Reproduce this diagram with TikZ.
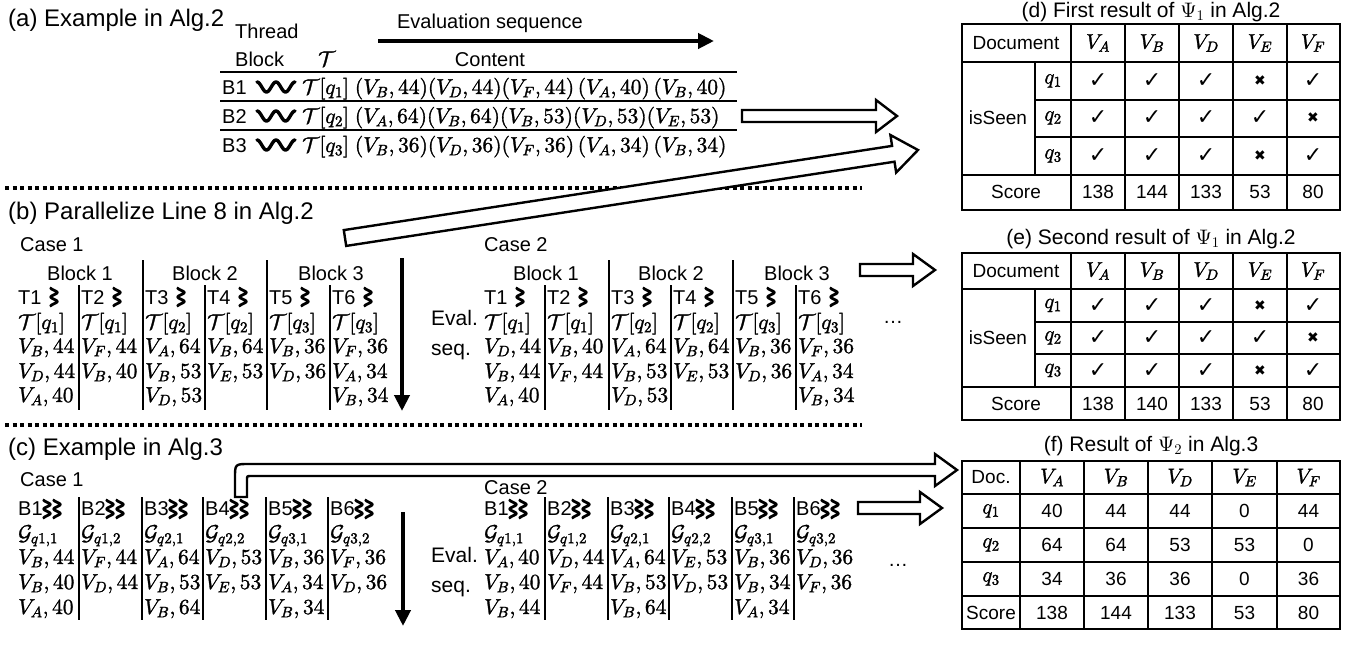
\documentclass[tikz,border=0pt]{standalone}
\usepackage[no-math]{fontspec}
\setmainfont{Liberation Sans}
\newfontfamily\symf{DejaVu Sans}
\DeclareFontShape{OT1}{cmr}{m}{n}{<-> cmr10}{}
\DeclareFontShape{OML}{cmm}{m}{it}{<-> cmmi10}{}
\DeclareFontShape{OMS}{cmsy}{m}{n}{<-> cmsy10}{}
\usetikzlibrary{arrows.meta,calc}
\newcommand\ckm{{\symf\fontsize{22}{24}\selectfont ✓}}
\newcommand\crm{{\symf\fontsize{14}{16}\selectfont ✖}}
\newcommand\hollowarr[5]{%
  \coordinate (hh) at ($(#2)!#5!(#1)$);
  \draw[hollow] ($(#1)!#3!90:(#2)$) -- ($(hh)!#3!-90:(#1)$) -- ($(hh)!#4!-90:(#1)$) -- (#2)
     -- ($(hh)!#4!90:(#1)$) -- ($(hh)!#3!90:(#1)$) -- ($(#1)!#3!-90:(#2)$) -- cycle;}
\begin{document}
\begin{tikzpicture}[x=1pt,y=-1pt,
 heavy/.style={execute at begin node={\special{pdf:literal direct 2 Tr 0.3 w}},
               execute at end node={\special{pdf:literal direct 0 Tr}}},
 head/.style={font=\fontsize{24}{28}\selectfont, inner sep=0, anchor=base west},
 txt/.style={font=\fontsize{20}{24}\selectfont, inner sep=0},
 evt/.style={font=\fontsize{21}{25}\selectfont, inner sep=0, anchor=base west},
 mth/.style={heavy, font=\fontsize{21.5}{26}\selectfont, inner sep=0, anchor=base west},
 rule/.style={line width=1.4pt},
 sep/.style={line width=1.2pt},
 dots/.style={line width=4pt, dash pattern=on 4pt off 3.5pt},
 thickarr/.style={line width=4pt, -{Triangle[length=16pt,width=15pt]}},
 hollow/.style={line width=2.4pt, line join=miter, fill=white},
 tab/.style={line width=1.6pt},
 ttl/.style={font=\fontsize{21}{25}\selectfont, inner sep=0, anchor=base},
 tt/.style={font=\fontsize{19}{23}\selectfont, inner sep=0},
 tm/.style={heavy, font=\fontsize{21}{25}\selectfont, inner sep=0},
 hw/.pic={\draw[line width=3.4pt, line cap=round, line join=round] plot[domain=-19:19, samples=60, smooth] ({\x},{-5*cos(\x*360/19)});},
 vw/.pic={\draw[line width=2.8pt, line cap=round, line join=round] plot[domain=-9:9, samples=40, smooth] ({-3.2*cos(\x*40)},{\x});}
]
\fill[white] (0,0) rectangle (1353,649);
\useasboundingbox (0,0) rectangle (1353,649);

% ---------------- (a)
\node[head] (ta) at (8,26) {(a) Example in Alg.2};
\node[txt,anchor=base west] (thr) at (235,38) {Thread};
\node[txt,anchor=base west] (blk) at (235,66) {Block};
\node[mth] (tcal) at (318,66) {$\mathcal{T}$};
\node[txt,anchor=base] (evs) at (490,28) {Evaluation sequence};
\node[txt,anchor=base] (cnt) at (490,66) {Content};
\coordinate (evA) at (378,41); \coordinate (evB) at (714,41);
\draw[thickarr] (evA) -- (evB);
\foreach \yy [count=\i] in {72,101,130} {
  \coordinate (ra\i) at (220,\yy); \coordinate (rb\i) at (737,\yy);
  \draw[rule] (ra\i) -- (rb\i);}
\foreach \i/\yy/\rw in {
 1/94/{\mathcal{T}[q_1]\;(V_B,44)(V_D,44)(V_F,44)\,(V_A,40)\,(V_B,40)},
 2/123/{\mathcal{T}[q_2]\;(V_A,64)(V_B,64)(V_B,53)(V_D,53)(V_E,53)},
 3/152/{\mathcal{T}[q_3]\;(V_B,36)(V_D,36)(V_F,36)\,(V_A,34)\,(V_B,34)}}{
  \node[txt,anchor=base west] (aB\i) at (222,\yy) {B\i};
  \pic at (276,\yy-7) {hw};
  \node[mth] (aR\i) at (302,\yy) {$\rw$};}
\coordinate (d1a) at (5,188); \coordinate (d1b) at (862,188);
\draw[dots] (d1a) -- (d1b);
\coordinate (haA) at (742,116); \coordinate (haB) at (897,116);
\hollowarr{haA}{haB}{6pt}{16pt}{21pt}

% ---------------- (b)
\node[head] (tb) at (8,219) {(b) Parallelize Line 8 in Alg.2};
\node[txt,anchor=base west] (bc1) at (20,251) {Case 1};
\node[txt,anchor=base west] (bc2) at (484,251) {Case 2};
\foreach \k/\xx in {1/80,2/205,3/331} {
  \node[txt,anchor=base] (bk\k) at (\xx,280) {Block \k};
  \node[txt,anchor=base] (bkk\k) at (\xx+466,280) {Block \k};}
\foreach \xx in {143,267} {\draw[sep] (\xx,260) -- (\xx,410); \draw[sep] (\xx+466,260) -- (\xx+466,410);}
\foreach \xx in {79,205,330} {\draw[sep] (\xx,285) -- (\xx,410); \draw[sep] (\xx+466,285) -- (\xx+466,410);}
\foreach \n/\x/\q/\ca/\cb/\cd in {
 1/18/1/{V_B,44}/{V_D,44}/{V_A,40},
 2/81/1/{V_F,44}/{V_B,40}/{},
 3/145/2/{V_A,64}/{V_B,53}/{V_D,53},
 4/207/2/{V_B,64}/{V_E,53}/{},
 5/269/3/{V_B,36}/{V_D,36}/{},
 6/332/3/{V_F,36}/{V_A,34}/{V_B,34}}{
  \node[txt,anchor=base west] (bAT\n) at (\x,304) {T\n};
  \pic at (\x+36,297) {vw};
  \node[mth] (bAq\n) at (\x,329) {$\mathcal{T}[q_\q]$};
  \node[mth] (bAa\n) at (\x,353) {${}\ca$};
  \node[mth] (bAb\n) at (\x,378) {${}\cb$};
  \node[mth] (bAc\n) at (\x,402) {${}\cd$};}
\foreach \n/\x/\q/\ca/\cb/\cd in {
 1/484/1/{V_D,44}/{V_B,44}/{V_A,40},
 2/547/1/{V_B,40}/{V_F,44}/{},
 3/611/2/{V_A,64}/{V_B,53}/{V_D,53},
 4/673/2/{V_B,64}/{V_E,53}/{},
 5/735/3/{V_B,36}/{V_D,36}/{},
 6/798/3/{V_F,36}/{V_A,34}/{V_B,34}}{
  \node[txt,anchor=base west] (bBT\n) at (\x,304) {T\n};
  \pic at (\x+36,297) {vw};
  \node[mth] (bBq\n) at (\x,329) {$\mathcal{T}[q_\q]$};
  \node[mth] (bBa\n) at (\x,353) {${}\ca$};
  \node[mth] (bBb\n) at (\x,378) {${}\cb$};
  \node[mth] (bBc\n) at (\x,402) {${}\cd$};}
\coordinate (beA) at (402,258); \coordinate (beB) at (402,411);
\draw[thickarr] (beA) -- (beB);
\node[evt] (bev) at (431,325) {Eval.};
\node[evt] (bsq) at (431,355) {seq.};
\node[txt] (bdots) at (893,322) {…};
\coordinate (hbA) at (860,270); \coordinate (hbB) at (935,270);
\hollowarr{hbA}{hbB}{6pt}{16pt}{22pt}
\coordinate (d2a) at (5,425); \coordinate (d2b) at (862,425);
\draw[dots] (d2a) -- (d2b);
\coordinate (dgA) at (345,238); \coordinate (dgB) at (918,150);
\hollowarr{dgA}{dgB}{8pt}{19pt}{25pt}

% ---------------- (c)
\node[head] (tc) at (8,455) {(c) Example in Alg.3};
\node[txt,anchor=base west] (cc1) at (20,486) {Case 1};
\node[txt,anchor=base west] (cc2) at (484,494) {Case 2};
\foreach \xx in {79,142,203,266,328} {\draw[sep] (\xx,497) -- (\xx,620); \draw[sep] (\xx+466,497) -- (\xx+466,620);}
\foreach \n/\x/\g/\ca/\cb/\cd in {
 1/18/{q1,1}/{V_B,44}/{V_B,40}/{V_A,40},
 2/81/{q1,2}/{V_F,44}/{V_D,44}/{},
 3/144/{q2,1}/{V_A,64}/{V_B,53}/{V_B,64},
 4/205/{q2,2}/{V_D,53}/{V_E,53}/{},
 5/268/{q3,1}/{V_B,36}/{V_A,34}/{V_B,34},
 6/330/{q3,2}/{V_F,36}/{V_D,36}/{}}{
  \node[txt,anchor=base west] (cAB\n) at (\x,515) {B\n};
  \pic at (\x+29,509) {vw}; \pic at (\x+39,509) {vw};
  \node[mth] (cAg\n) at (\x,540) {$\mathcal{G}_{\g}$};
  \node[mth] (cAa\n) at (\x,564) {${}\ca$};
  \node[mth] (cAb\n) at (\x,589) {${}\cb$};
  \node[mth] (cAc\n) at (\x,614) {${}\cd$};}
\foreach \n/\x/\g/\ca/\cb/\cd in {
 1/484/{q1,1}/{V_A,40}/{V_B,40}/{V_B,44},
 2/547/{q1,2}/{V_D,44}/{V_F,44}/{},
 3/610/{q2,1}/{V_A,64}/{V_B,53}/{V_B,64},
 4/671/{q2,2}/{V_E,53}/{V_D,53}/{},
 5/734/{q3,1}/{V_B,36}/{V_B,34}/{V_A,34},
 6/796/{q3,2}/{V_D,36}/{V_F,36}/{}}{
  \node[txt,anchor=base west] (cBB\n) at (\x,515) {B\n};
  \pic at (\x+29,509) {vw}; \pic at (\x+39,509) {vw};
  \node[mth] (cBg\n) at (\x,540) {$\mathcal{G}_{\g}$};
  \node[mth] (cBa\n) at (\x,564) {${}\ca$};
  \node[mth] (cBb\n) at (\x,589) {${}\cb$};
  \node[mth] (cBc\n) at (\x,614) {${}\cd$};}
\coordinate (ceA) at (403,512); \coordinate (ceB) at (403,626);
\draw[thickarr] (ceA) -- (ceB);
\node[evt] (cev) at (431,562) {Eval.};
\node[evt] (csq) at (431,592) {seq.};
\node[txt] (cdots) at (898,565) {…};
\coordinate (hcA) at (858,508); \coordinate (hcB) at (942,508);
\hollowarr{hcA}{hcB}{6pt}{16pt}{22pt}
\coordinate (bnS) at (241,497); \coordinate (bnT) at (957,470);
\draw[hollow] ($(bnS)+(-6,0)$) -- ($(bnS)+(-6,-19)$) .. controls ($(bnS)+(-6,-33)$) .. ($(bnS)+(8,-33)$)
  -- ($(bnT)+(-22,-6)$) -- ($(bnT)+(-22,-16)$) -- (bnT) -- ($(bnT)+(-22,16)$) -- ($(bnT)+(-22,6)$)
  -- ($(bnS)+(10,-21)$) .. controls ($(bnS)+(6,-21)$) .. ($(bnS)+(6,-17)$) -- ($(bnS)+(6,0)$) -- cycle;

% ---------------- (d)
\node[ttl] (dT) at (1151,17) {(d) First result of $\Psi_1$ in Alg.2};
\draw[tab] (962,24) rectangle (1340,210);
\draw[tab] (962,62) -- (1340,62) (962,175) -- (1340,175) (1035,100) -- (1340,100) (1035,137) -- (1340,137) (1035,62) -- (1035,175);
\foreach \xx in {1071,1125,1179,1233,1287} \draw[tab] (\xx,24) -- (\xx,210);
\node[tt] (dDoc) at (1016,43) {Document};
\foreach \c/\xx in {A/1098,B/1152,D/1206,E/1260,F/1313} \node[tm] (dV\c) at (\xx,43) {$V_\c$};
\node[tt] (dIs) at (998,118) {isSeen};
\foreach \r/\yy in {1/81,2/118,3/156} \node[tm] (dq\r) at (1053,\yy) {$q_\r$};
\node[tt] (dSc) at (1016,192) {Score};
\foreach \r/\yy/\ma/\mb/\mc/\md/\me in {1/81/\ckm/\ckm/\ckm/\crm/\ckm, 2/118/\ckm/\ckm/\ckm/\ckm/\crm, 3/156/\ckm/\ckm/\ckm/\crm/\ckm}{
  \node[inner sep=0] (dm\r a) at (1098,\yy) {\ma};
  \node[inner sep=0] (dm\r b) at (1152,\yy) {\mb};
  \node[inner sep=0] (dm\r c) at (1206,\yy) {\mc};
  \node[inner sep=0] (dm\r d) at (1260,\yy) {\md};
  \node[inner sep=0] (dm\r e) at (1313,\yy) {\me};}
\foreach \v/\xx [count=\j] in {138/1098,144/1152,133/1206,53/1260,80/1313} \node[tt] (dS\j) at (\xx,192) {\v};

% ---------------- (e)
\node[ttl] (eT) at (1151,244) {(e) Second result of $\Psi_1$ in Alg.2};
\draw[tab] (962,253) rectangle (1340,420);
\draw[tab] (962,289) -- (1340,289) (962,387) -- (1340,387) (1035,322) -- (1340,322) (1035,354) -- (1340,354) (1035,289) -- (1035,387);
\foreach \xx in {1071,1125,1179,1233,1287} \draw[tab] (\xx,253) -- (\xx,420);
\node[tt] (eDoc) at (1016,271) {Document};
\foreach \c/\xx in {A/1098,B/1152,D/1206,E/1260,F/1313} \node[tm] (eV\c) at (\xx,271) {$V_\c$};
\node[tt] (eIs) at (998,338) {isSeen};
\foreach \r/\yy in {1/305.5,2/338,3/370.5} \node[tm] (eq\r) at (1053,\yy) {$q_\r$};
\node[tt] (eSc) at (1016,403.5) {Score};
\foreach \r/\yy/\ma/\mb/\mc/\md/\me in {1/305.5/\ckm/\ckm/\ckm/\crm/\ckm, 2/338/\ckm/\ckm/\ckm/\ckm/\crm, 3/370.5/\ckm/\ckm/\ckm/\crm/\ckm}{
  \node[inner sep=0] (em\r a) at (1098,\yy) {\ma};
  \node[inner sep=0] (em\r b) at (1152,\yy) {\mb};
  \node[inner sep=0] (em\r c) at (1206,\yy) {\mc};
  \node[inner sep=0] (em\r d) at (1260,\yy) {\md};
  \node[inner sep=0] (em\r e) at (1313,\yy) {\me};}
\foreach \v/\xx [count=\j] in {138/1098,140/1152,133/1206,53/1260,80/1313} \node[tt] (eS\j) at (\xx,403.5) {\v};

% ---------------- (f)
\node[ttl] (fT) at (1151,451) {(f) Result of $\Psi_2$ in Alg.3};
\draw[tab] (962,461) rectangle (1340,629);
\foreach \yy in {494,528,562,596} \draw[tab] (962,\yy) -- (1340,\yy);
\foreach \xx in {1020,1084,1148,1212,1277} \draw[tab] (\xx,461) -- (\xx,629);
\node[tt] (fDoc) at (991,477.5) {Doc.};
\foreach \c/\xx in {A/1052,B/1116,D/1180,E/1244.5,F/1308.5} \node[tm] (fV\c) at (\xx,477.5) {$V_\c$};
\foreach \r/\yy/\va/\vb/\vc/\vd/\ve in {1/511/40/44/44/0/44, 2/545/64/64/53/53/0, 3/579/34/36/36/0/36}{
  \node[tm] (fq\r) at (991,\yy) {$q_\r$};
  \node[tt] (f\r a) at (1052,\yy) {\va};
  \node[tt] (f\r b) at (1116,\yy) {\vb};
  \node[tt] (f\r c) at (1180,\yy) {\vc};
  \node[tt] (f\r d) at (1244.5,\yy) {\vd};
  \node[tt] (f\r e) at (1308.5,\yy) {\ve};}
\node[tt] (fSc) at (991,612.5) {Score};
\foreach \v/\xx [count=\j] in {138/1052,144/1116,133/1180,53/1244.5,80/1308.5} \node[tt] (fS\j) at (\xx,612.5) {\v};
\end{tikzpicture}
\end{document}
